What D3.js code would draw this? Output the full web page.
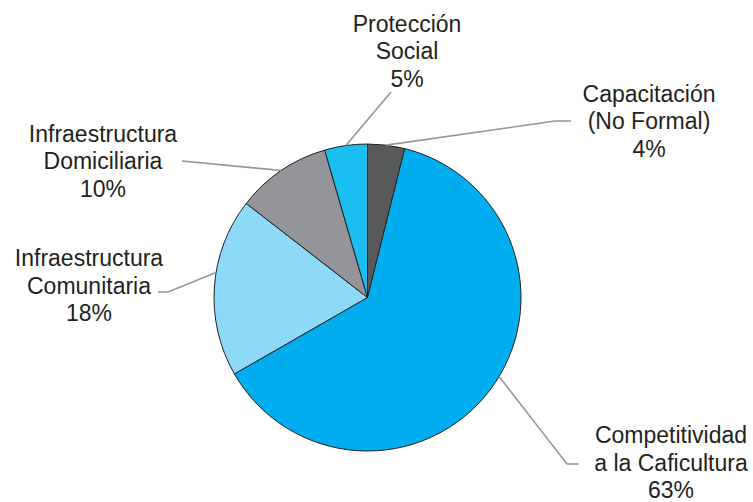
<!DOCTYPE html>
<html>
<head>
<meta charset="utf-8">
<script src="https://cdn.jsdelivr.net/npm/d3@7"></script>
<style>
  html, body { margin: 0; padding: 0; background: #ffffff; }
  svg { display: block; }
</style>
</head>
<body>
<svg id="chart" width="753" height="502"></svg>
<script>
// ---- Data ----
const categories = [
  "Capacitación (No Formal)",
  "Competitividad a la Caficultura",
  "Infraestructura Comunitaria",
  "Infraestructura Domiciliaria",
  "Protección Social"
];
const labelLines = [
  ["Capacitación", "(No Formal)"],
  ["Competitividad", "a la Caficultura"],
  ["Infraestructura", "Comunitaria"],
  ["Infraestructura", "Domiciliaria"],
  ["Protección", "Social"]
];
const values = [3.9, 62.8, 18.8, 10.0, 4.5];      // slice sizes
const percentLabels = ["4%", "63%", "18%", "10%", "5%"];
const colors = ["#58595b", "#00aeef", "#8ed8f8", "#939598", "#1bbef0"];

// ---- Layout (positions only) ----
const W = 753, H = 502;
const cx = 367.5, cy = 297.5, R = 153.5;
const fontSize = 23, lineH = 27.5;
// frac: where along the slice's arc the leader starts; elbow, end, label center x, first baseline
const labelLayout = [
  { frac: 0.5,   elbow: [555, 121], end: [571, 121], tx: 649, ty: 101.5 },
  { frac: 0.473, elbow: [567, 464], end: [579, 464], tx: 671, ty: 443 },
  { frac: 0.58,  elbow: [168, 292], end: [158, 292], tx: 89,  ty: 266 },
  { frac: 0.5,   elbow: [182, 161], end: [182, 161], tx: 103, ty: 141.5 },
  { frac: 0.5,   elbow: [391, 92],  end: [391, 92],  tx: 407, ty: 31.5 }
];

const svg = d3.select("#chart");
const g = svg.append("g").attr("transform", `translate(${cx},${cy})`);

const pie = d3.pie().sort(null).value(d => d)(values);
const arc = d3.arc().innerRadius(0).outerRadius(R);

g.selectAll("path.slice")
  .data(pie)
  .join("path")
  .attr("class", "slice")
  .attr("d", arc)
  .attr("fill", (d, i) => colors[i])
  .attr("stroke", "#231f20")
  .attr("stroke-width", 1)
  .attr("stroke-linejoin", "round");

// Leader lines
pie.forEach((d, i) => {
  const L = labelLayout[i];
  const a = d.startAngle + (d.endAngle - d.startAngle) * L.frac;
  const sx = cx + R * Math.sin(a);
  const sy = cy - R * Math.cos(a);
  svg.append("polyline")
    .attr("points", [[sx, sy], L.elbow, L.end].map(p => p.join(",")).join(" "))
    .attr("fill", "none")
    .attr("stroke", "#939598")
    .attr("stroke-width", 1.6);
});

// Labels
labelLines.forEach((lines, i) => {
  const L = labelLayout[i];
  const t = svg.append("text")
    .attr("text-anchor", "middle")
    .attr("font-family", "'Liberation Sans', Arial, Helvetica, sans-serif")
    .attr("font-size", fontSize)
    .attr("fill", "#231f20");
  lines.concat([percentLabels[i]]).forEach((s, k) => {
    t.append("tspan").attr("x", L.tx).attr("y", L.ty + k * lineH).text(s);
  });
});
</script>
</body>
</html>
